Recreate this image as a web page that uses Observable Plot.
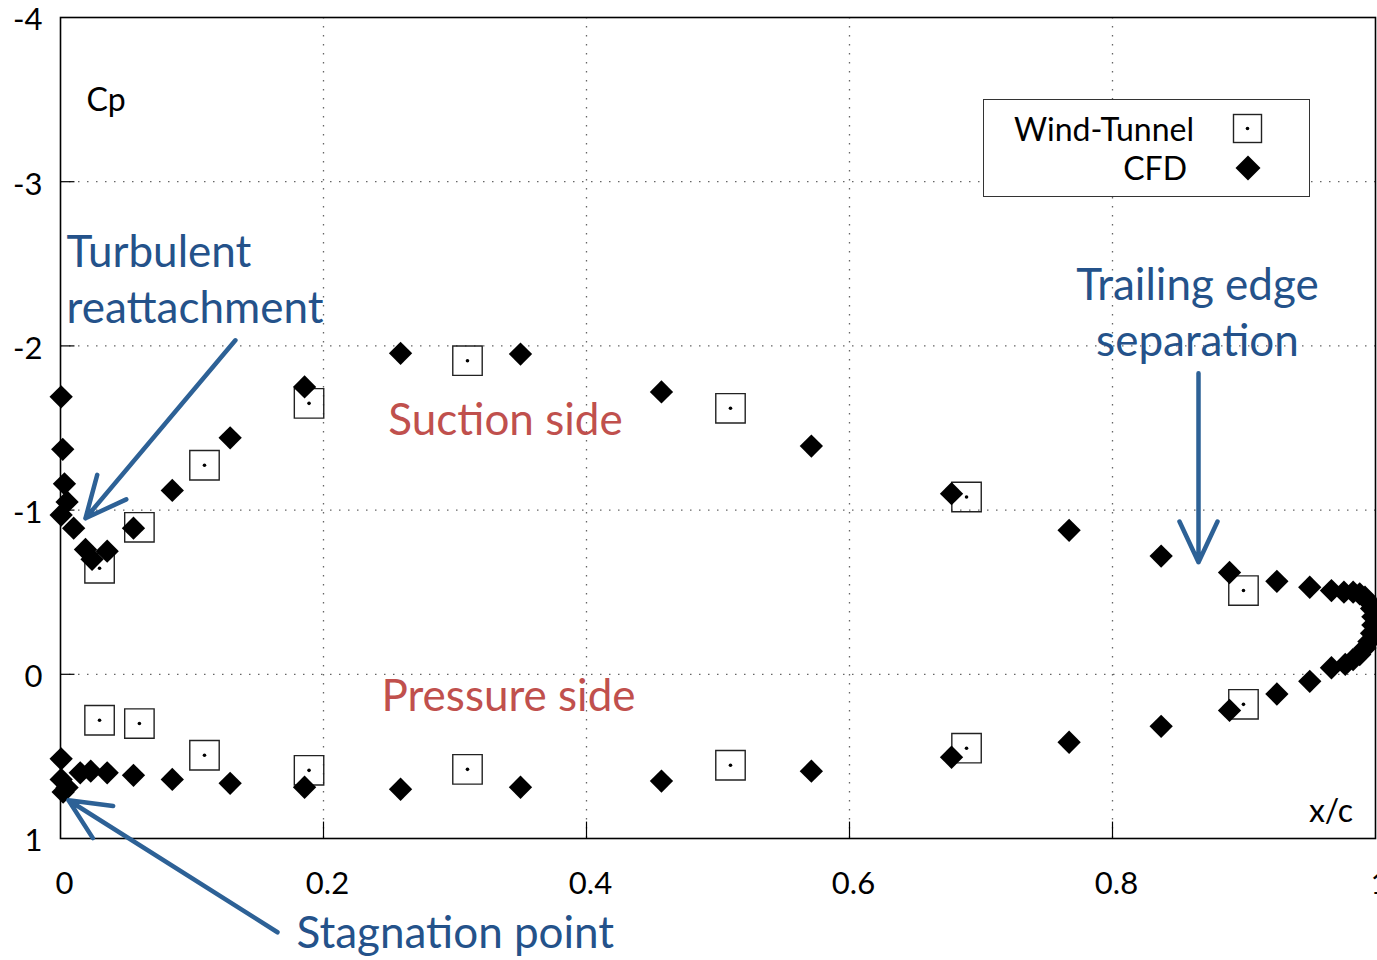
<!DOCTYPE html>
<html>
<head>
<meta charset="utf-8">
<script src="https://cdn.jsdelivr.net/npm/d3@7"></script>
<script src="https://cdn.jsdelivr.net/npm/@observablehq/plot@0.6"></script>
<style>
  html, body { margin: 0; padding: 0; background: #fff; }
  #wrap { position: relative; width: 1377px; height: 960px; overflow: hidden; font-family: Lato, "Open Sans", sans-serif; }
  #legend { position: absolute; left: 983px; top: 99px; width: 327px; height: 98px; border: 1.3px solid #333; background: #fff; box-sizing: border-box; }
  #legend .row { position: absolute; right: 115px; font-size: 32px; color: #000; line-height: 1; }
  #legend svg { position: absolute; }
</style>
</head>
<body>
<div id="wrap"></div>
<script>
// ---- Data ----
const cfdX = [0.0005, 0.0017, 0.003, 0.005, 0.0005, 0.010, 0.019, 0.024, 0.0355, 0.0555,
  0.085, 0.129, 0.1856, 0.2586, 0.3498, 0.457, 0.571, 0.6776, 0.767, 0.837,
  0.889, 0.925, 0.950, 0.9665, 0.976, 0.983, 0.988, 0.992, 0.995, 0.997,
  0.998, 0.998, 0.997, 0.995, 0.992, 0.988, 0.983, 0.977, 0.9665, 0.950,
  0.925, 0.889, 0.837, 0.767, 0.6776, 0.571, 0.457, 0.3498, 0.2586, 0.1856,
  0.129, 0.085, 0.0555, 0.0355, 0.023, 0.015, 0.005, 0.002, 0.0005, 0.0005];
const cfdCp = [-1.69, -1.37, -1.16, -1.05, -0.97, -0.89, -0.76, -0.70, -0.75, -0.89,
  -1.12, -1.44, -1.75, -1.955, -1.95, -1.72, -1.39, -1.10, -0.877, -0.72,
  -0.62, -0.566, -0.53, -0.51, -0.50, -0.50, -0.49, -0.47, -0.44, -0.40,
  -0.35, -0.30, -0.25, -0.20, -0.16, -0.12, -0.09, -0.06, -0.04, 0.043,
  0.12, 0.22, 0.317, 0.414, 0.505, 0.59, 0.65, 0.688, 0.70, 0.688,
  0.664, 0.64, 0.615, 0.60, 0.59, 0.60, 0.69, 0.717, 0.64, 0.515];

const wtX = [0.0297, 0.06, 0.1095, 0.189, 0.3095, 0.5095, 0.689, 0.8996,
  0.0297, 0.06, 0.1095, 0.189, 0.3095, 0.5095, 0.689, 0.8996];
const wtCp = [-0.646, -0.895, -1.273, -1.65, -1.91, -1.62, -1.08, -0.51,
  0.28, 0.30, 0.493, 0.585, 0.579, 0.554, 0.45, 0.183];

const xTicks = [0, 0.2, 0.4, 0.6, 0.8, 1];
const yTicks = [-4, -3, -2, -1, 0, 1];
const xGrid = [0.2, 0.4, 0.6, 0.8];
const yGrid = [-3, -2, -1, 0];

// annotation texts (data coordinates)
const leftNoteText = ["Turbulent", "reattachment", "Stagnation point"];
const leftNoteX = [0.0046, 0.0046, 0.1795];
const leftNoteY = [-2.564, -2.223, 1.583];

const midNoteText = ["Trailing edge", "separation"];
const midNoteX = [0.8646, 0.8646];
const midNoteY = [-2.363, -2.022];

const sideText = ["Suction side", "Pressure side"];
const sideX = [0.3384, 0.3407];
const sideY = [-1.541, 0.14];

const arrowX1 = [0.133, 0.8654, 0.165];
const arrowY1 = [-2.034, -1.833, 1.571];
const arrowX2 = [0.019, 0.8654, 0.0061];
const arrowY2 = [-0.95, -0.682, 0.767];

const cpLabel = ["Cp"], cpX = [0.0198], cpY = [-3.496];
const xcLabel = ["x/c"], xcX = [0.983], xcY = [0.84];

const legendLabels = ["Wind-Tunnel", "CFD"];

// ---- Build tables ----
const cfd = cfdX.map((x, i) => ({x, cp: cfdCp[i]}));
const wt = wtX.map((x, i) => ({x, cp: wtCp[i]}));
const leftNotes = leftNoteText.map((t, i) => ({t, x: leftNoteX[i], y: leftNoteY[i]}));
const midNotes = midNoteText.map((t, i) => ({t, x: midNoteX[i], y: midNoteY[i]}));
const sides = sideText.map((t, i) => ({t, x: sideX[i], y: sideY[i]}));
const arrows = arrowX1.map((x1, i) => ({x1, y1: arrowY1[i], x2: arrowX2[i], y2: arrowY2[i]}));
const cpT = cpLabel.map((t, i) => ({t, x: cpX[i], y: cpY[i]}));
const xcT = xcLabel.map((t, i) => ({t, x: xcX[i], y: xcY[i]}));

const blueText = "#24528a";
const blueArrow = "#2d6196";
const red = "#c0504d";

const chart = Plot.plot({
  width: 1377,
  height: 960,
  marginLeft: 60,
  marginRight: 2,
  marginTop: 17,
  marginBottom: 122,
  style: {fontFamily: "Lato, 'Open Sans', sans-serif", background: "#fff", overflow: "visible"},
  x: {domain: [0, 1]},
  y: {domain: [1, -4]},
  marks: [
    // dotted grid
    Plot.ruleX(xGrid, {stroke: "#666", strokeWidth: 1.3, strokeDasharray: "1.5,7.5"}),
    Plot.ruleY(yGrid, {stroke: "#666", strokeWidth: 1.3, strokeDasharray: "1.5,7.5"}),
    // small inward ticks
    Plot.ruleY(yGrid, {x1: 0, x2: 0.011, stroke: "#000", strokeWidth: 1.2}),
    Plot.ruleX(xGrid, {y1: 1, y2: 0.9, stroke: "#000", strokeWidth: 1.2}),
    Plot.frame({stroke: "#000", strokeWidth: 1.6}),
    Plot.axisX({ticks: xTicks, tickSize: 0, tickPadding: 33, fontSize: 31, tickFormat: d => String(d), dx: 4}),
    Plot.axisY({ticks: yTicks, tickSize: 0, tickPadding: 18, fontSize: 31, tickFormat: d => String(d), dy: 3}),
    // wind tunnel squares
    Plot.dot(wt, {x: "x", y: "cp", symbol: "square", r: 16.6, fill: "none", stroke: "#222", strokeWidth: 1.4}),
    Plot.dot(wt, {x: "x", y: "cp", r: 1.8, fill: "#000"}),
    // CFD diamonds
    Plot.dot(cfd, {x: "x", y: "cp", symbol: "diamond2", r: 10.5, fill: "#000", stroke: "none"}),
    // annotations
    Plot.arrow(arrows, {x1: "x1", y1: "y1", x2: "x2", y2: "y2", stroke: blueArrow, strokeWidth: 4.5, headLength: 15, headAngle: 50}),
    Plot.text(leftNotes, {x: "x", y: "y", text: "t", textAnchor: "start", fill: blueText, fontSize: 44}),
    Plot.text(midNotes, {x: "x", y: "y", text: "t", textAnchor: "middle", fill: blueText, fontSize: 44}),
    Plot.text(sides, {x: "x", y: "y", text: "t", textAnchor: "middle", fill: red, fontSize: 44}),
    Plot.text(cpT, {x: "x", y: "y", text: "t", textAnchor: "start", fill: "#000", fontSize: 32}),
    Plot.text(xcT, {x: "x", y: "y", text: "t", textAnchor: "end", fill: "#000", fontSize: 32})
  ]
});

const wrap = document.getElementById("wrap");
wrap.appendChild(chart);

// legend box (inside the plot area, top right)
const legend = document.createElement("div");
legend.id = "legend";
legend.innerHTML =
  `<div class="row" style="top:13px">${legendLabels[0]}</div>` +
  `<div class="row" style="top:52px; right:122px">${legendLabels[1]}</div>` +
  `<svg width="32" height="32" style="left:248px; top:13px"><rect x="1.5" y="1.5" width="28" height="28" fill="none" stroke="#222" stroke-width="1.4"/><circle cx="15.5" cy="15.5" r="1.8" fill="#000"/></svg>` +
  `<svg width="28" height="28" style="left:250px; top:54px"><path d="M14 1.5 L26.5 14 L14 26.5 L1.5 14 Z" fill="#000"/></svg>`;
wrap.appendChild(legend);
</script>
</body>
</html>
